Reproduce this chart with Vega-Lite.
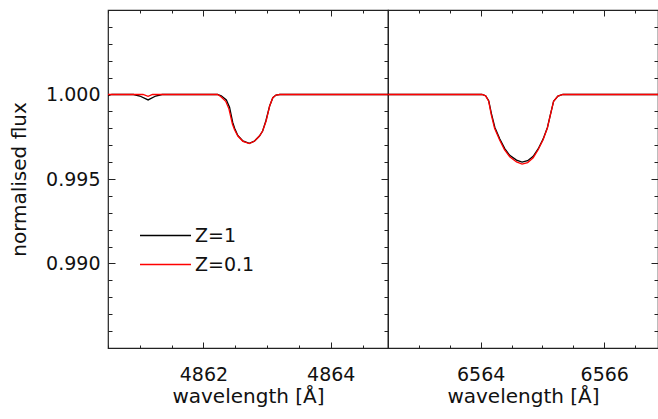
{
  "$schema": "https://vega.github.io/schema/vega-lite/v6.json",
  "padding": {"left": 9, "top": 0, "right": 1, "bottom": 5},
  "background": "white",
  "config": {
    "view": {"stroke": "#222", "strokeWidth": 1.2},
    "font": "DejaVu Sans",
    "axis": {"domain": false, "grid": false, "tickColor": "#222", "tickWidth": 1, "labelFont": "DejaVu Sans", "labelFontSize": 19, "labelColor": "#111", "titleFont": "DejaVu Sans", "titleFontSize": 20, "titleFontWeight": "normal", "titleColor": "#111", "labelFlush": false, "labelOverlap": false}
  },
  "datasets": {
    "left": [
      {"lam": 4860.5, "flux": 0.99993, "Z": "Z=1"},
      {"lam": 4860.56, "flux": 1.0, "Z": "Z=1"},
      {"lam": 4860.9, "flux": 1.0, "Z": "Z=1"},
      {"lam": 4861.0, "flux": 0.99991, "Z": "Z=1"},
      {"lam": 4861.13, "flux": 0.99968, "Z": "Z=1"},
      {"lam": 4861.25, "flux": 0.99991, "Z": "Z=1"},
      {"lam": 4861.35, "flux": 1.0, "Z": "Z=1"},
      {"lam": 4862.22, "flux": 1.0, "Z": "Z=1"},
      {"lam": 4862.28, "flux": 0.99992, "Z": "Z=1"},
      {"lam": 4862.36, "flux": 0.99968, "Z": "Z=1"},
      {"lam": 4862.41, "flux": 0.99925, "Z": "Z=1"},
      {"lam": 4862.46, "flux": 0.99835, "Z": "Z=1"},
      {"lam": 4862.49, "flux": 0.998, "Z": "Z=1"},
      {"lam": 4862.54, "flux": 0.99758, "Z": "Z=1"},
      {"lam": 4862.62, "flux": 0.99725, "Z": "Z=1"},
      {"lam": 4862.72, "flux": 0.99711, "Z": "Z=1"},
      {"lam": 4862.8, "flux": 0.99724, "Z": "Z=1"},
      {"lam": 4862.88, "flux": 0.99754, "Z": "Z=1"},
      {"lam": 4862.93, "flux": 0.99784, "Z": "Z=1"},
      {"lam": 4862.98, "flux": 0.99843, "Z": "Z=1"},
      {"lam": 4863.04, "flux": 0.99932, "Z": "Z=1"},
      {"lam": 4863.09, "flux": 0.99981, "Z": "Z=1"},
      {"lam": 4863.14, "flux": 0.99997, "Z": "Z=1"},
      {"lam": 4863.2, "flux": 1.0, "Z": "Z=1"},
      {"lam": 4864.9, "flux": 1.0, "Z": "Z=1"},
      {"lam": 4860.5, "flux": 1.0, "Z": "Z=0.1"},
      {"lam": 4861.05, "flux": 1.0, "Z": "Z=0.1"},
      {"lam": 4861.13, "flux": 0.99989, "Z": "Z=0.1"},
      {"lam": 4861.2, "flux": 1.0, "Z": "Z=0.1"},
      {"lam": 4862.22, "flux": 1.0, "Z": "Z=0.1"},
      {"lam": 4862.27, "flux": 0.99988, "Z": "Z=0.1"},
      {"lam": 4862.35, "flux": 0.9996, "Z": "Z=0.1"},
      {"lam": 4862.4, "flux": 0.99915, "Z": "Z=0.1"},
      {"lam": 4862.455, "flux": 0.99825, "Z": "Z=0.1"},
      {"lam": 4862.485, "flux": 0.99794, "Z": "Z=0.1"},
      {"lam": 4862.54, "flux": 0.99754, "Z": "Z=0.1"},
      {"lam": 4862.62, "flux": 0.99723, "Z": "Z=0.1"},
      {"lam": 4862.72, "flux": 0.9971, "Z": "Z=0.1"},
      {"lam": 4862.8, "flux": 0.99723, "Z": "Z=0.1"},
      {"lam": 4862.88, "flux": 0.99754, "Z": "Z=0.1"},
      {"lam": 4862.93, "flux": 0.99784, "Z": "Z=0.1"},
      {"lam": 4862.985, "flux": 0.99843, "Z": "Z=0.1"},
      {"lam": 4863.04, "flux": 0.99932, "Z": "Z=0.1"},
      {"lam": 4863.09, "flux": 0.99981, "Z": "Z=0.1"},
      {"lam": 4863.14, "flux": 0.99997, "Z": "Z=0.1"},
      {"lam": 4863.2, "flux": 1.0, "Z": "Z=0.1"},
      {"lam": 4864.9, "flux": 1.0, "Z": "Z=0.1"}
    ],
    "right": [
      {"lam": 6562.5, "flux": 1.0, "Z": "Z=1"},
      {"lam": 6564.02, "flux": 1.0, "Z": "Z=1"},
      {"lam": 6564.08, "flux": 0.99993, "Z": "Z=1"},
      {"lam": 6564.13, "flux": 0.99963, "Z": "Z=1"},
      {"lam": 6564.175, "flux": 0.99885, "Z": "Z=1"},
      {"lam": 6564.23, "flux": 0.99805, "Z": "Z=1"},
      {"lam": 6564.31, "flux": 0.99737, "Z": "Z=1"},
      {"lam": 6564.39, "flux": 0.9968, "Z": "Z=1"},
      {"lam": 6564.47, "flux": 0.9964, "Z": "Z=1"},
      {"lam": 6564.58, "flux": 0.99612, "Z": "Z=1"},
      {"lam": 6564.67, "flux": 0.996, "Z": "Z=1"},
      {"lam": 6564.76, "flux": 0.99608, "Z": "Z=1"},
      {"lam": 6564.85, "flux": 0.99634, "Z": "Z=1"},
      {"lam": 6564.93, "flux": 0.99678, "Z": "Z=1"},
      {"lam": 6565.01, "flux": 0.99736, "Z": "Z=1"},
      {"lam": 6565.08, "flux": 0.99805, "Z": "Z=1"},
      {"lam": 6565.13, "flux": 0.99883, "Z": "Z=1"},
      {"lam": 6565.18, "flux": 0.9996, "Z": "Z=1"},
      {"lam": 6565.25, "flux": 0.99991, "Z": "Z=1"},
      {"lam": 6565.33, "flux": 1.0, "Z": "Z=1"},
      {"lam": 6566.87, "flux": 1.0, "Z": "Z=1"},
      {"lam": 6562.5, "flux": 1.0, "Z": "Z=0.1"},
      {"lam": 6564.02, "flux": 1.0, "Z": "Z=0.1"},
      {"lam": 6564.08, "flux": 0.99992, "Z": "Z=0.1"},
      {"lam": 6564.13, "flux": 0.9996, "Z": "Z=0.1"},
      {"lam": 6564.17, "flux": 0.99882, "Z": "Z=0.1"},
      {"lam": 6564.225, "flux": 0.998, "Z": "Z=0.1"},
      {"lam": 6564.305, "flux": 0.99732, "Z": "Z=0.1"},
      {"lam": 6564.385, "flux": 0.99673, "Z": "Z=0.1"},
      {"lam": 6564.47, "flux": 0.99632, "Z": "Z=0.1"},
      {"lam": 6564.58, "flux": 0.99601, "Z": "Z=0.1"},
      {"lam": 6564.67, "flux": 0.99588, "Z": "Z=0.1"},
      {"lam": 6564.76, "flux": 0.99597, "Z": "Z=0.1"},
      {"lam": 6564.85, "flux": 0.99626, "Z": "Z=0.1"},
      {"lam": 6564.93, "flux": 0.99673, "Z": "Z=0.1"},
      {"lam": 6565.01, "flux": 0.99732, "Z": "Z=0.1"},
      {"lam": 6565.08, "flux": 0.99802, "Z": "Z=0.1"},
      {"lam": 6565.13, "flux": 0.99882, "Z": "Z=0.1"},
      {"lam": 6565.18, "flux": 0.9996, "Z": "Z=0.1"},
      {"lam": 6565.25, "flux": 0.99991, "Z": "Z=0.1"},
      {"lam": 6565.33, "flux": 1.0, "Z": "Z=0.1"},
      {"lam": 6566.87, "flux": 1.0, "Z": "Z=0.1"}
    ]
  },
  "spacing": 0,
  "bounds": "flush",
  "resolve": {"legend": {"color": "independent"}, "scale": {"color": "independent"}},
  "hconcat": [
    {
      "width": 280,
      "height": 338,
      "data": {"name": "left"},
      "layer": [
        {
          "mark": {"type": "line", "strokeWidth": 1.3, "clip": true},
          "encoding": {
            "x": {"field": "lam", "type": "quantitative",
              "scale": {"domain": [4860.5, 4864.9], "nice": false, "zero": false},
              "axis": {"orient": "bottom", "values": [4860.5, 4861, 4861.5, 4862, 4862.5, 4863, 4863.5, 4864, 4864.5],
                "labelExpr": "datum.value % 2 === 0 ? format(datum.value, 'd') : ''",
                "tickSize": {"condition": {"test": "datum.value % 2 === 0", "value": -6}, "value": -3},
                "labelPadding": 23, "title": "wavelength [Å]", "titlePadding": -1}},
            "y": {"field": "flux", "type": "quantitative",
              "scale": {"domain": [0.985, 1.005], "nice": false, "zero": false},
              "axis": {"orient": "left", "values": [0.985, 0.986, 0.987, 0.988, 0.989, 0.99, 0.991, 0.992, 0.993, 0.994, 0.995, 0.996, 0.997, 0.998, 0.999, 1, 1.001, 1.002, 1.003, 1.004, 1.005],
                "labelExpr": "datum.value > 0.9875 && datum.value < 1.0025 && abs(datum.value * 200 - round(datum.value * 200)) < 0.001 ? format(datum.value, '.3f') : ''",
                "tickSize": {"condition": {"test": "abs(datum.value * 200 - round(datum.value * 200)) < 0.001", "value": -7}, "value": -4},
                "labelPadding": 15, "title": "normalised flux", "titlePadding": 16}},
            "color": {"field": "Z", "type": "nominal", "sort": null,
              "scale": {"domain": ["Z=1", "Z=0.1"], "range": ["#000000", "#ff0000"]},
              "legend": {"orient": "none", "legendX": 31, "legendY": 216, "title": null, "symbolType": "M-1,0H5", "symbolSize": 289, "symbolStrokeWidth": 1.3, "labelFontSize": 19, "labelFont": "DejaVu Sans", "labelColor": "#111", "labelOffset": 37, "rowPadding": 9, "padding": 0}}
          }
        },
        {
          "mark": {"type": "line", "opacity": 0},
          "encoding": {
            "x": {"field": "lam", "type": "quantitative",
              "scale": {"domain": [4860.5, 4864.9], "nice": false, "zero": false},
              "axis": {"orient": "top", "values": [4860.5, 4861, 4861.5, 4862, 4862.5, 4863, 4863.5, 4864, 4864.5], "labels": false, "title": null,
                "tickSize": {"condition": {"test": "datum.value % 2 === 0", "value": -6}, "value": -3}}},
            "y": {"field": "flux", "type": "quantitative",
              "scale": {"domain": [0.985, 1.005], "nice": false, "zero": false},
              "axis": {"orient": "right", "values": [0.985, 0.986, 0.987, 0.988, 0.989, 0.99, 0.991, 0.992, 0.993, 0.994, 0.995, 0.996, 0.997, 0.998, 0.999, 1, 1.001, 1.002, 1.003, 1.004, 1.005], "labels": false, "title": null,
                "tickSize": {"condition": {"test": "abs(datum.value * 200 - round(datum.value * 200)) < 0.001", "value": -7}, "value": -4}}}
          }
        }
      ],
      "resolve": {"axis": {"x": "independent", "y": "independent"}}
    },
    {
      "width": 270,
      "height": 338,
      "data": {"name": "right"},
      "layer": [
        {
          "mark": {"type": "line", "strokeWidth": 1.3, "clip": true},
          "encoding": {
            "x": {"field": "lam", "type": "quantitative",
              "scale": {"domain": [6562.5, 6566.87], "nice": false, "zero": false},
              "axis": {"orient": "bottom", "values": [6562.5, 6563, 6563.5, 6564, 6564.5, 6565, 6565.5, 6566, 6566.5],
                "labelExpr": "datum.value % 2 === 0 ? format(datum.value, 'd') : ''",
                "tickSize": {"condition": {"test": "datum.value % 2 === 0", "value": -6}, "value": -3},
                "labelPadding": 23, "title": "wavelength [Å]", "titlePadding": -1}},
            "y": {"field": "flux", "type": "quantitative",
              "scale": {"domain": [0.985, 1.005], "nice": false, "zero": false},
              "axis": null},
            "color": {"field": "Z", "type": "nominal", "sort": null,
              "scale": {"domain": ["Z=1", "Z=0.1"], "range": ["#000000", "#ff0000"]},
              "legend": null}
          }
        },
        {
          "mark": {"type": "line", "opacity": 0},
          "encoding": {
            "x": {"field": "lam", "type": "quantitative",
              "scale": {"domain": [6562.5, 6566.87], "nice": false, "zero": false},
              "axis": {"orient": "top", "values": [6562.5, 6563, 6563.5, 6564, 6564.5, 6565, 6565.5, 6566, 6566.5], "labels": false, "title": null,
                "tickSize": {"condition": {"test": "datum.value % 2 === 0", "value": -6}, "value": -3}}},
            "y": {"field": "flux", "type": "quantitative",
              "scale": {"domain": [0.985, 1.005], "nice": false, "zero": false},
              "axis": {"orient": "right", "values": [0.985, 0.986, 0.987, 0.988, 0.989, 0.99, 0.991, 0.992, 0.993, 0.994, 0.995, 0.996, 0.997, 0.998, 0.999, 1, 1.001, 1.002, 1.003, 1.004, 1.005], "labels": false, "title": null,
                "tickSize": {"condition": {"test": "abs(datum.value * 200 - round(datum.value * 200)) < 0.001", "value": -7}, "value": -4}}}
          }
        }
      ],
      "resolve": {"axis": {"x": "independent", "y": "independent"}}
    }
  ]
}
